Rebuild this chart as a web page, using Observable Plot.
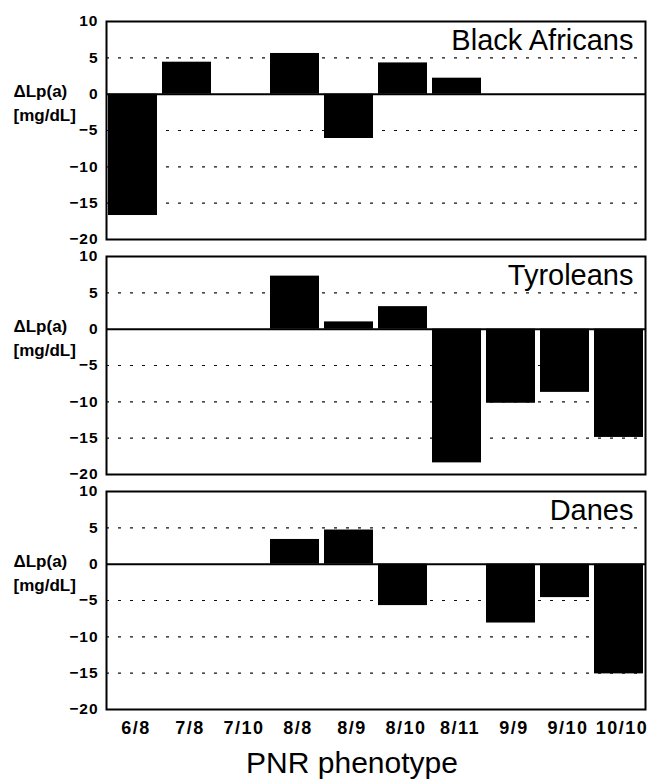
<!DOCTYPE html>
<html>
<head>
<meta charset="utf-8">
<script src="https://cdn.jsdelivr.net/npm/d3@7"></script>
<script src="https://cdn.jsdelivr.net/npm/@observablehq/plot@0.6"></script>
<style>
  body { margin: 0; background: #fff; }
  #chart svg { display: block; }
  #chart g[aria-label="x-axis tick label"] text { letter-spacing: 1.5px; }
  #chart g[aria-label="y-axis tick label"] text { letter-spacing: 1px; }
  #xlabel { width: 650px; box-sizing: border-box; padding-left: 54px; text-align: center;
    font-family: "Liberation Sans", Arial, Helvetica, sans-serif; font-size: 30px; line-height: 36px; color: #000; }
</style>
</head>
<body>
<div id="chart"></div>
<div id="xlabel">PNR phenotype</div>
<script>
const phenotypes = ["6/8", "7/8", "7/10", "8/8", "8/9", "8/10", "8/11", "9/9", "9/10", "10/10"];
const populations = ["Black Africans", "Tyroleans", "Danes"];
const blackAfricans = [-16.7, 4.4, null, 5.6, -6.1, 4.3, 2.2, null, null, null];
const tyroleans     = [null, null, null, 7.3, 1.0, 3.1, -18.4, -10.2, -8.7, -14.9];
const danes         = [null, null, null, 3.4, 4.7, -5.7, null, -8.1, -4.6, -15.1];
const yTicks = [-20, -15, -10, -5, 0, 5, 10];
const gridValues = [5, -5, -10, -15];
const yLabel = "ΔLp(a)\n[mg/dL]";

const series = [blackAfricans, tyroleans, danes];
const table = [];
series.forEach((vals, i) => vals.forEach((v, j) => {
  if (v !== null) table.push({pop: populations[i], cat: phenotypes[j], value: v});
}));

const font = '"Liberation Sans", Arial, Helvetica, sans-serif';

const chart = Plot.plot({
  width: 650,
  height: 745,
  marginLeft: 106,
  marginRight: 5,
  marginTop: 20,
  marginBottom: 36,
  style: {fontFamily: font, color: "#000", background: "#fff"},
  x: {domain: phenotypes, paddingInner: 0.1, paddingOuter: 0.03},
  y: {domain: [-20, 10]},
  fy: {domain: populations, axis: null, paddingInner: 0.0743, label: null},
  marks: [
    Plot.ruleY(gridValues, {stroke: "#111", strokeWidth: 1.2, strokeDasharray: "3,9"}),
    Plot.barY(table, {x: "cat", y: "value", fy: "pop", fill: "#000"}),
    Plot.ruleY([0], {stroke: "#000", strokeWidth: 2}),
    Plot.frame({stroke: "#000", strokeWidth: 2}),
    Plot.text(populations, {fy: d => d, text: d => d, frameAnchor: "top-right", lineAnchor: "top",
      dx: -12, dy: 8, fontSize: 29, fill: "#000"}),
    Plot.text([0], {y: d => d, text: () => yLabel, frameAnchor: "left", textAnchor: "start",
      lineAnchor: "middle", lineHeight: 1.45, dx: -93, dy: 7, fontSize: 17, fontWeight: "bold", fill: "#000"}),
    Plot.axisY({ticks: yTicks, tickSize: 0, tickPadding: 8, fontSize: 15.5, fontWeight: "bold", label: null}),
    Plot.axisX({tickSize: 0, tickPadding: 12, fontSize: 18, fontWeight: "bold", label: null, dx: 3})
  ]
});
document.getElementById("chart").appendChild(chart);
</script>
</body>
</html>
